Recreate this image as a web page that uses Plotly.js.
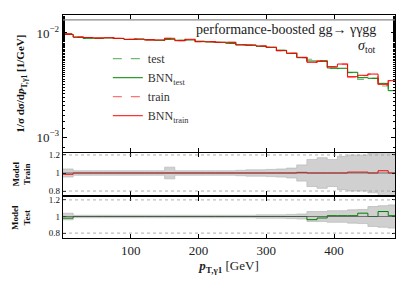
<!DOCTYPE html>
<html><head><meta charset="utf-8">
<script src="https://cdn.plot.ly/plotly-3.0.1.min.js"></script>
<style>html,body{margin:0;padding:0;background:#fff}</style></head>
<body>
<div id="chart" style="width:411px;height:288px"></div>
<script>
// bin edges in GeV (33 bins of 15 GeV)
const binEdges = [0,15,30,45,60,75,90,105,120,135,150,165,180,195,210,225,240,255,270,285,300,315,330,345,360,375,390,405,420,435,450,465,480,495];
// BNN predictions, normalised distribution
const bnnTrain = [0.00972,0.00915,0.00905,0.00895,0.00901,0.00889,0.00870,0.00870,0.00857,0.00857,0.00889,0.00843,0.00870,0.00825,0.00825,0.00814,0.00814,0.00767,0.00767,0.00750,0.00729,0.00676,0.00638,0.00584,0.00523,0.00538,0.00474,0.00503,0.00380,0.00392,0.00403,0.00321,0.00348];
const bnnTest  = [0.00967,0.00909,0.00889,0.00889,0.00895,0.00885,0.00866,0.00876,0.00862,0.00851,0.00870,0.00851,0.00857,0.00832,0.00819,0.00814,0.00796,0.00772,0.00762,0.00745,0.00729,0.00682,0.00638,0.00579,0.00538,0.00534,0.00461,0.00458,0.00419,0.00372,0.00367,0.00328,0.00279];
// ratios Model / truth
const ratioTrain = [0.986,1,1,1,1,1,1,1,1,1,1,1,1,1,1,1,1,1,1,1,1,1,1,1.007,1,1,1,1,1.01,1.01,1,1.025,1];
const ratioTest  = [0.98,1,1,1,1,1,1,1,1,1,1,1,1,1,1,1,1,1,1,1,1,1,1,1,0.962,0.982,1.01,1.01,1.01,1.04,1.0,1.06,1.01];
// uncertainty band half widths
const bandTrain = [0.045,0.025,0.025,0.025,0.025,0.025,0.025,0.025,0.025,0.025,0.065,0.025,0.025,0.025,0.025,0.025,0.025,0.03,0.035,0.035,0.04,0.045,0.055,0.09,0.15,0.17,0.15,0.185,0.2,0.2,0.22,0.25,0.25];
const bandTest  = [0.04,0.015,0.015,0.015,0.015,0.015,0.015,0.015,0.015,0.015,0.015,0.015,0.015,0.015,0.015,0.015,0.015,0.015,0.015,0.02,0.02,0.02,0.025,0.03,0.06,0.06,0.07,0.07,0.08,0.085,0.12,0.13,0.14];

const step = v => v.concat([v[v.length-1]]);
const truthTrain = bnnTrain.map((v,i)=>v/ratioTrain[i]);
const truthTest  = bnnTest.map((v,i)=>v/ratioTest[i]);

const serif = 'Liberation Serif, DejaVu Serif, serif';
const greenD = '#008000', redD = '#ff0000';

function bandTraces(ratioBand, xa, ya){
  const up = step(ratioBand.map(b=>1+b)), lo = step(ratioBand.map(b=>1-b));
  return [
    {x:binEdges, y:up, xaxis:xa, yaxis:ya, mode:'lines', line:{shape:'hv', color:'#b0b0b0', width:0.6}, showlegend:false, hoverinfo:'skip'},
    {x:binEdges, y:lo, xaxis:xa, yaxis:ya, mode:'lines', line:{shape:'hv', color:'#b0b0b0', width:0.6}, fill:'tonexty', fillcolor:'rgba(200,200,200,0.85)', showlegend:false, hoverinfo:'skip'}
  ];
}

const traces = [
  {x:binEdges, y:step(truthTest), name:'test', mode:'lines', line:{shape:'hv', color:'rgba(0,128,0,0.55)', width:1.2, dash:'dash'}},
  {x:binEdges, y:step(bnnTest), name:'BNN<sub>test</sub>', mode:'lines', line:{shape:'hv', color:greenD, width:1}},
  {x:binEdges, y:step(truthTrain), name:'train', mode:'lines', line:{shape:'hv', color:'rgba(255,0,0,0.55)', width:1.2, dash:'dash'}},
  {x:binEdges, y:step(bnnTrain), name:'BNN<sub>train</sub>', mode:'lines', line:{shape:'hv', color:redD, width:1}},
  ...bandTraces(bandTrain,'x2','y2'),
  {x:binEdges, y:step(ratioTrain), xaxis:'x2', yaxis:'y2', mode:'lines', line:{shape:'hv', color:redD, width:1}, showlegend:false},
  ...bandTraces(bandTest,'x3','y3'),
  {x:binEdges, y:step(ratioTest), xaxis:'x3', yaxis:'y3', mode:'lines', line:{shape:'hv', color:greenD, width:1}, showlegend:false}
];

const xr = [0, 490];
const axX = {range:xr, showline:true, mirror:'allticks', linecolor:'#000', linewidth:1.3, ticks:'inside', ticklen:4, tickcolor:'#000', showgrid:false, zeroline:false, tickvals:[100,200,300,400]};
const axR = {showline:true, mirror:'allticks', linecolor:'#000', linewidth:1.3, ticks:'inside', ticklen:3, tickcolor:'#000', showgrid:false, zeroline:false, tickvals:[0.8,1,1.2], ticktext:['0.8','1','1.2'], tickfont:{family:serif, size:9, color:'#111'}};

const dotted = (ya, v) => ({type:'line', xref:'x2 domain', x0:0, x1:1, yref:ya, y0:v, y1:v, line:{color:'#999', width:0.8, dash:'dot'}});

const layout = {
  width:411, height:288,
  margin:{l:63, r:16, t:15, b:50},
  paper_bgcolor:'#fff', plot_bgcolor:'#fff',
  font:{family:serif, color:'#111'},
  showlegend:true,
  legend:{x:0.135, y:0.869, xanchor:'left', yanchor:'top', traceorder:'normal', bgcolor:'rgba(0,0,0,0)', font:{family:serif, size:12, color:'#333'}, itemwidth:30, tracegroupgap:0},
  xaxis:Object.assign({}, axX, {anchor:'y', showticklabels:false}),
  yaxis:{domain:[0.3857,1], type:'log', range:[-3.144,-1.827], showline:true, mirror:'allticks', linecolor:'#000', linewidth:1.3, ticks:'inside', ticklen:4, tickcolor:'#000', showgrid:false, zeroline:false,
    tickvals:[0.001,0.01], ticktext:['10<sup>−3</sup>','10<sup>−2</sup>'], tickfont:{family:serif, size:13, color:'#222'},
    minor:{ticks:'inside', ticklen:2, tickcolor:'#000'}},
  xaxis2:Object.assign({}, axX, {anchor:'y2', showticklabels:false}),
  yaxis2:Object.assign({}, axR, {domain:[0.1928,0.3812], range:[0.756,1.222]}),
  xaxis3:Object.assign({}, axX, {anchor:'y3', tickfont:{family:serif, size:13, color:'#222'},
    title:{text:'<b><i>p</i><sub>T,γ1</sub></b> [GeV]', font:{family:serif, size:13, color:'#222'}, standoff:4}}),
  yaxis3:Object.assign({}, axR, {domain:[0,0.1839], range:[0.741,1.235]}),
  shapes:[
    {type:'line', xref:'x domain', x0:0, x1:1, yref:'paper', y0:0.978, y1:0.978, line:{color:'#888', width:1.2}},
    dotted('y2',0.8), dotted('y2',1.2), dotted('y3',0.8), dotted('y3',1.2),
    {type:'line', xref:'x2 domain', x0:0, x1:1, yref:'y2', y0:1, y1:1, line:{color:'#555', width:0.8}},
    {type:'line', xref:'x3 domain', x0:0, x1:1, yref:'y3', y0:1, y1:1, line:{color:'#555', width:0.8}}
  ],
  annotations:[
    {xref:'paper', yref:'paper', x:0.95, y:0.935, xanchor:'right', yanchor:'middle', showarrow:false, text:'performance-boosted gg→ γγgg', font:{family:serif, size:14, color:'#222'}},
    {xref:'paper', yref:'paper', x:0.95, y:0.86, xanchor:'right', yanchor:'middle', showarrow:false, text:'<i>σ</i><sub>tot</sub>', font:{family:serif, size:14, color:'#222'}},
    {xref:'paper', yref:'paper', x:-0.125, y:0.69, xanchor:'center', yanchor:'middle', textangle:-90, showarrow:false, text:'<b>1/σ dσ/d<i>p</i><sub>T,γ1</sub> [1/GeV]</b>', font:{family:serif, size:11, color:'#111'}},
    {xref:'paper', yref:'paper', x:-0.125, y:0.287, xanchor:'center', yanchor:'middle', textangle:-90, showarrow:false, text:'<b>Model</b><br><b>Train</b>', font:{family:serif, size:9, color:'#111'}},
    {xref:'paper', yref:'paper', x:-0.125, y:0.092, xanchor:'center', yanchor:'middle', textangle:-90, showarrow:false, text:'<b>Model</b><br><b>Test</b>', font:{family:serif, size:9, color:'#111'}}
  ]
};

Plotly.newPlot('chart', traces, layout, {displayModeBar:false, staticPlot:true});
</script>
</body></html>
